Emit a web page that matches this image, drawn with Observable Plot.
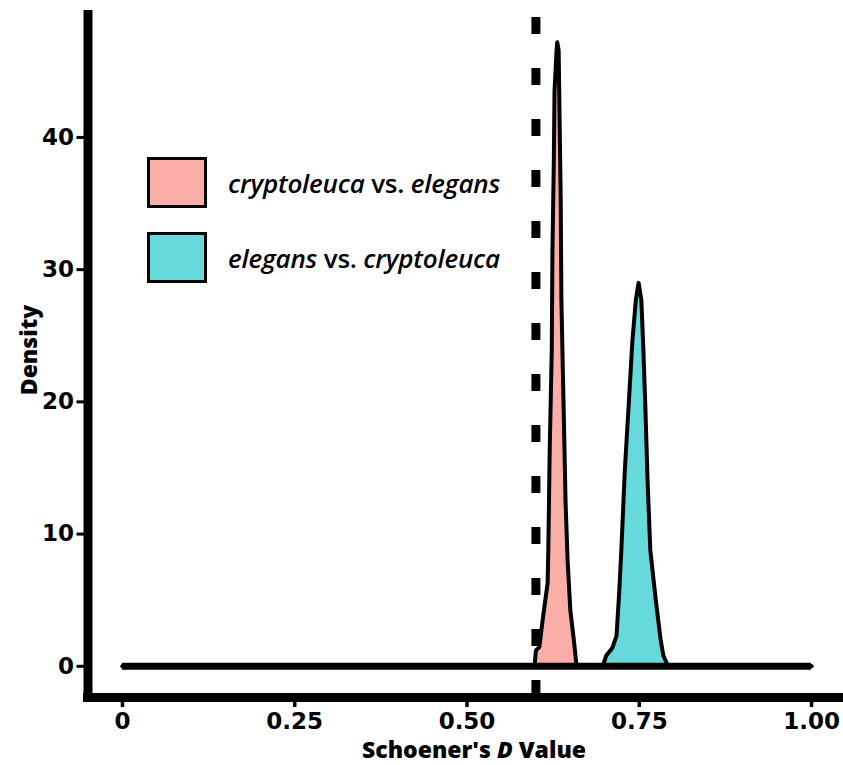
<!DOCTYPE html>
<html><head><meta charset="utf-8">
<script src="https://cdn.jsdelivr.net/npm/d3@7"></script>
<script src="https://cdn.jsdelivr.net/npm/@observablehq/plot@0.6"></script>
<style>
body{margin:0;background:#fff;}
#wrap{position:relative;width:843px;height:765px;font-family:"Open Sans",Lato,sans-serif;overflow:hidden;}
#wrap svg{overflow:visible;}
#wrap svg text{font-weight:800;fill:#000;}
.leg{position:absolute;left:147px;display:flex;align-items:center;}
.sw{width:54px;height:45px;border:3px solid #000;box-sizing:content-box;}
.lab{margin-left:21px;font-size:26px;font-weight:600;white-space:nowrap;letter-spacing:-0.2px;}
.lab i{font-style:italic;}
</style></head>
<body>
<div id="wrap"></div>
<script>
const seriesNames = ["cryptoleuca vs. elegans", "elegans vs. cryptoleuca"];
const seriesColors = ["#F8766D", "#00BFC4"];

const pinkX = [0.598,0.600,0.605,0.610,0.617,0.618,0.620,0.623,0.624,0.626,0.627,0.630,0.631,0.633,0.634,0.636,0.637,0.640,0.643,0.646,0.650,0.655,0.659];
const pinkY = [0,1.2,1.45,3.6,6.3,8.8,16.3,23.9,31.4,38.2,43.5,46.6,47.2,46.6,42.8,35.2,27.7,20.1,12.5,8.0,4.2,2.0,0];

const tealX = [0.697,0.702,0.711,0.717,0.721,0.724,0.729,0.735,0.740,0.745,0.749,0.753,0.756,0.759,0.762,0.766,0.774,0.781,0.785,0.792];
const tealY = [0,0.8,1.4,2.3,5.7,8.8,14.8,20.1,24.6,27.7,29.0,27.7,23.9,19.3,14.1,8.8,5.0,2.0,0.8,0];

const xTicks = [0, 0.25, 0.5, 0.75, 1];
const xTickLabels = ["0", "0.25", "0.50", "0.75", "1.00"];
const yTicks = [0, 10, 20, 30, 40];
const threshold = [0.6];
const xDomain = [-0.05, 1.05];
const yDomain = [-2.36, 49.6];

function rowsFor(name, xs, ys) {
  const r = [{series: name, x: 0, y: 0}];
  xs.forEach((x, i) => r.push({series: name, x, y: ys[i]}));
  r.push({series: name, x: 1, y: 0});
  return r;
}
const rows = [...rowsFor(seriesNames[0], pinkX, pinkY), ...rowsFor(seriesNames[1], tealX, tealY)];

const chart = Plot.plot({
  width: 843,
  height: 765,
  marginTop: 10,
  marginBottom: 68,
  marginLeft: 87.5,
  marginRight: 0,
  style: {fontFamily: "'DejaVu Sans', sans-serif", fontSize: "23px", background: "#fff", overflow: "visible"},
  x: {domain: xDomain, range: [87.5, 845.5]},
  y: {domain: yDomain},
  color: {domain: seriesNames, range: seriesColors},
  marks: [
    Plot.areaY(rows, {x: "x", y: "y", z: "series", fill: "series", fillOpacity: 0.6}),
    Plot.line(rows, {x: "x", y: "y", z: "series", stroke: "black", strokeWidth: 4, strokeLinejoin: "round"}),
    Plot.ruleY([0], {x1: 0, x2: 1, stroke: "black", strokeWidth: 7}),
    Plot.ruleX(threshold, {stroke: "black", strokeWidth: 9, strokeDasharray: "17,34", strokeDashoffset: 44}),
    Plot.ruleX([xDomain[0]], {y1: yDomain[0], y2: yDomain[1], stroke: "black", strokeWidth: 9}),
    Plot.ruleY([yDomain[0]], {x1: xDomain[0], x2: 1.1, stroke: "black", strokeWidth: 9, strokeLinecap: "square"}),
    Plot.axisY({ticks: yTicks, tickSize: 11, tickPadding: 3, strokeWidth: 3, fontSize: 23, label: null}),
    Plot.axisX({ticks: xTicks, tickFormat: (d, i) => xTickLabels[i], tickSize: 10, tickPadding: 5, strokeWidth: 3.5, fontSize: 23, label: null})
  ]
});

const wrap = document.getElementById("wrap");
wrap.appendChild(chart);

const svg = d3.select(chart);
// tick labels: wide heavy digits
svg.selectAll("text").style("font-family", "'DejaVu Sans', sans-serif").style("font-size", "23px").style("font-weight", 700);

const xt = svg.append("text").attr("x", 474).attr("y", 758).attr("text-anchor", "middle")
  .style("font-family", "'Open Sans', sans-serif").style("font-size", "23px").style("font-weight", 800);
xt.append("tspan").text("Schoener's ");
xt.append("tspan").style("font-style", "italic").text("D");
xt.append("tspan").text(" Value");

svg.append("text").attr("transform", "translate(37,350) rotate(-90)").attr("text-anchor", "middle")
  .style("font-family", "'Open Sans', sans-serif").style("font-size", "23px").style("font-weight", 800).text("Density");

const legendItems = [
  {top: 157, color: seriesColors[0], a: "cryptoleuca", b: "elegans"},
  {top: 232, color: seriesColors[1], a: "elegans", b: "cryptoleuca"}
];
legendItems.forEach(it => {
  const d = document.createElement("div");
  d.className = "leg";
  d.style.top = it.top + "px";
  const c = d3.color(it.color); c.opacity = 0.6;
  d.innerHTML = `<div class="sw" style="background:${c.formatRgb()}"></div><div class="lab"><i>${it.a}</i> vs. <i>${it.b}</i></div>`;
  wrap.appendChild(d);
});
</script>
</body></html>
